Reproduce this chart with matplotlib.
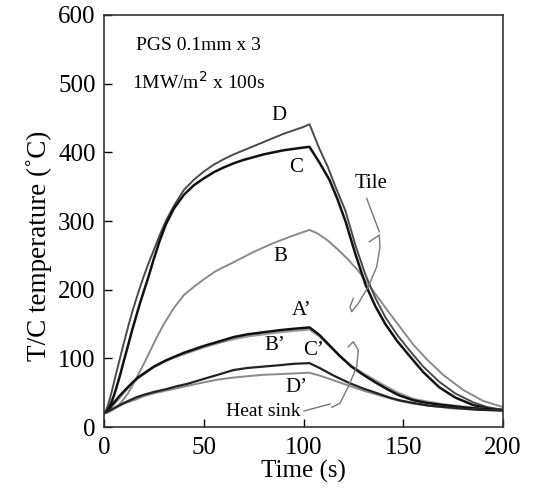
import matplotlib
matplotlib.use("Agg")
import matplotlib.pyplot as plt

plt.rcParams['font.family'] = ['Liberation Serif', 'DejaVu Serif']

# ---- data ----
t_D = [0, 1, 2, 3, 4, 5, 6, 8, 10, 12, 14, 16, 18, 20, 22, 25, 28, 31, 35, 40, 45, 50, 55, 60, 65, 70, 75, 80, 85, 90, 95, 100, 103,
       108, 112, 116, 121, 126, 131, 136, 141, 147, 153, 160, 168, 176, 185, 192, 200]
T_D = [20, 24, 32, 42, 53, 65, 77, 100, 123, 145, 166, 185, 203, 220, 236, 258, 280, 300, 322, 345, 360, 372, 382, 390, 397, 403, 409, 415, 421, 427, 432, 437, 441,
       405, 380, 350, 315, 265, 222, 188, 160, 134, 112, 88, 66, 49, 36, 29, 25]

t_C = [0, 1, 2, 3, 4, 5, 6, 8, 10, 12, 14, 16, 18, 20, 22, 25, 28, 31, 35, 40, 45, 50, 55, 60, 65, 70, 75, 80, 85, 90, 95, 100, 103,
       108, 113, 117, 121, 126, 131, 136, 141, 147, 153, 160, 168, 176, 185, 192, 200]
T_C = [20, 21, 25, 31, 38, 46, 55, 75, 97, 118, 140, 160, 180, 198, 216, 245, 272, 295, 318, 338, 352, 362, 371, 378, 384, 389, 393, 397, 400, 403, 405, 407, 408,
       385, 360, 332, 300, 252, 208, 176, 150, 125, 104, 80, 58, 43, 32, 27, 24]

t_B = [0, 2, 4, 6, 8, 10, 12, 14, 16, 18, 20, 23, 26, 30, 35, 40, 45, 50, 56, 65, 75, 85, 95, 100, 103,
       107, 112, 117, 122, 127, 132, 137, 142, 148, 155, 162, 170, 180, 190, 200]
T_B = [20, 21, 24, 28, 34, 41, 49, 59, 70, 81, 92, 110, 128, 150, 173, 192, 204, 215, 227, 240, 255, 268, 279, 284, 287,
       282, 272, 259, 245, 229, 210, 190, 170, 147, 120, 98, 76, 54, 38, 29]

t_A2 = [0, 1, 2, 3, 4, 6, 8, 10, 12, 14, 17, 20, 25, 31, 35, 40, 45, 50, 57, 65, 72, 80, 88, 95, 103,
        108, 113, 118, 124, 130, 136, 142, 148, 155, 162, 170, 182, 192, 200]
T_A2 = [20, 22, 25, 28, 32, 39, 46, 52, 58, 64, 72, 78, 88, 97, 102, 108, 113, 118, 124, 131, 135, 138, 141, 143, 145,
        134, 119, 104, 88, 76, 65, 55, 46, 39, 35, 32, 28, 26, 25]

t_B2 = [0, 1, 2, 3, 4, 6, 8, 10, 12, 14, 17, 20, 25, 31, 35, 40, 45, 50, 57, 65, 72, 80, 88, 95, 103,
        108, 113, 118, 124, 130, 136, 142, 148, 155, 162, 170, 182, 192, 200]
T_B2 = [20, 21, 23, 26, 30, 36, 43, 50, 57, 63, 71, 77, 87, 96, 101, 106, 111, 116, 122, 128, 132, 135, 138, 140, 142,
        132, 118, 104, 89, 78, 68, 58, 49, 41, 37, 33, 29, 26, 25]

t_C2 = [0, 2, 4, 6, 8, 10, 13, 16, 20, 25, 31, 36, 42, 50, 57, 65, 72, 80, 88, 95, 103,
        108, 115, 123, 130, 137, 143, 148, 155, 163, 175, 188, 200]
T_C2 = [20, 23, 26, 29, 32, 35, 39, 43, 47, 51, 55, 59, 63, 70, 76, 83, 86, 88, 90, 92, 93,
        86, 75, 64, 56, 49, 43, 39, 35, 31, 28, 25, 24]

t_D2 = [0, 2, 4, 6, 8, 10, 13, 16, 20, 25, 31, 36, 42, 50, 57, 65, 72, 80, 88, 95, 103,
        108, 115, 123, 130, 137, 143, 148, 155, 163, 175, 188, 200]
T_D2 = [20, 22, 25, 28, 31, 34, 37, 40, 45, 49, 53, 56, 60, 65, 69, 72, 74, 76, 77, 78, 79,
        75, 68, 60, 53, 47, 42, 38, 34, 31, 27, 25, 24]

x_ticks = [0, 50, 100, 150, 200]
y_ticks = [0, 100, 200, 300, 400, 500, 600]

# ---- figure ----
fig = plt.figure(figsize=(5.35, 4.92), dpi=100)
ax = fig.add_axes([104/535, 1-427/492, 399/535, 412/492])

ax.plot(t_B, T_B, color='#8a8a8a', lw=1.4)
ax.plot(t_D, T_D, color='#4a4a4a', lw=1.4)
ax.plot(t_C, T_C, color='#111111', lw=1.8)
ax.plot(t_B2, T_B2, color='#9a9a9a', lw=1.6)
ax.plot(t_A2, T_A2, color='#111111', lw=1.8)
ax.plot(t_D2, T_D2, color='#8a8a8a', lw=1.4)
ax.plot(t_C2, T_C2, color='#222222', lw=1.6)

ax.set_xlim(0, 200)
ax.set_ylim(0, 600)
ax.set_xticks(x_ticks)
ax.set_yticks(y_ticks)
ax.tick_params(direction='in', length=6, width=1, labelsize=18)
ax.tick_params(axis='x', pad=7)
ax.tick_params(axis='y', pad=6)
for s in ax.spines.values():
    s.set_linewidth(1.2)
    s.set_color('#333333')

ax.set_xlabel('Time (s)', fontsize=18, labelpad=1)
ax.set_ylabel('T/C temperature (\u02daC)', fontsize=19.5)
ax.yaxis.set_label_coords(-0.13, 0.44)

# text annotations
ax.text(16, 556, 'PGS 0.1mm x 3', fontsize=14, va='center')
ax.text(14, 502, '1MW/m$^{2}$ x 100s', fontsize=14, va='center')
lab = dict(fontsize=15, ha='center', va='center')
ax.text(87.5, 454, 'D', **lab)
ax.text(96.5, 378, 'C', **lab)
ax.text(88.5, 248, 'B', **lab)
ax.text(134, 355, 'Tile', **lab)
ax.text(99, 170, 'A\u2019', **lab)
ax.text(85.7, 118, 'B\u2019', **lab)
ax.text(104.8, 112, 'C\u2019', **lab)
ax.text(96.5, 58, 'D\u2019', **lab)
ax.text(80, 22, 'Heat sink', fontsize=14, ha='center', va='center')

# hand-drawn annotation brackets (pixel-derived)
def px2d(xs, ys):
    return [(x - 104) / 1.995 for x in xs], [(427 - y) / 0.687 for y in ys]

tile_lead = px2d([366.7, 379.3], [198.3, 231.7])
tile_brace = px2d([369.3, 379.3, 380.0, 376.7, 368.3, 358.3, 351.7, 350.0, 353.3],
                  [241.7, 235.0, 246.7, 266.7, 286.7, 303.3, 311.7, 306.7, 298.3])
hs_lead = px2d([304, 330], [411, 404])
hs_brace = px2d([331.7, 340.0, 348.3, 356.7, 358.3, 353.3, 348.3],
                [407.3, 403.3, 386.7, 366.7, 350.0, 341.7, 346.7])
for xs, ys in (tile_lead, tile_brace, hs_lead, hs_brace):
    ax.plot(xs, ys, color='#777777', lw=1.0)

fig.savefig('out.png', dpi=100)
